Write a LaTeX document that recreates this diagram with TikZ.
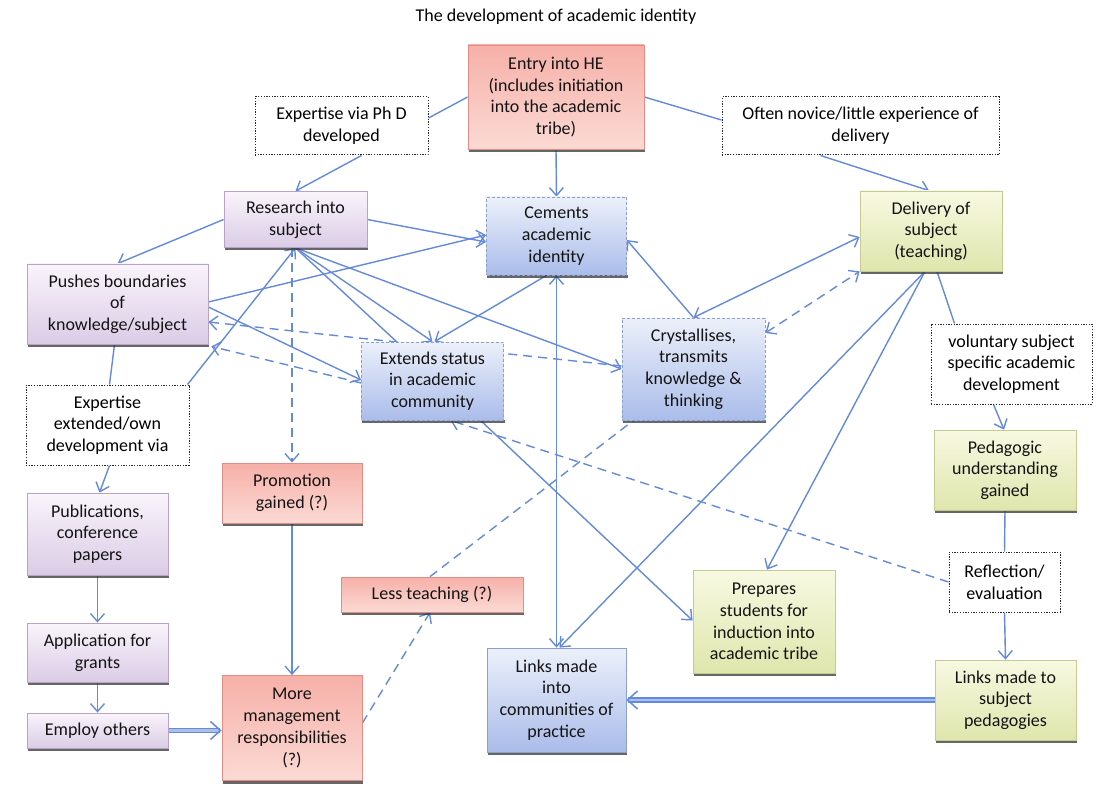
\documentclass[tikz,border=0pt]{standalone}
\usepackage{fontspec}
\setmainfont{Carlito}
\usetikzlibrary{arrows.meta,calc}

\definecolor{lineblue}{RGB}{100,138,218}
\definecolor{redtop}{RGB}{246,176,168}
\definecolor{redbot}{RGB}{251,218,212}
\definecolor{redbd}{RGB}{226,140,134}
\definecolor{purtop}{RGB}{250,244,251}
\definecolor{purbot}{RGB}{218,204,230}
\definecolor{purbd}{RGB}{184,162,200}
\definecolor{bluetop}{RGB}{236,240,250}
\definecolor{bluebot}{RGB}{170,188,234}
\definecolor{bluebd}{RGB}{140,160,204}
\definecolor{grntop}{RGB}{248,249,226}
\definecolor{grnbot}{RGB}{222,230,172}
\definecolor{grnbd}{RGB}{196,202,146}

\pgfdeclarelayer{bg}
\pgfdeclarelayer{shadow}
\pgfsetlayers{bg,shadow,main}

\tikzset{
  base/.style={draw, align=center, inner sep=2pt, text=black!92, line width=0.8pt},
  redbox/.style={base, draw=redbd, top color=redtop, bottom color=redbot},
  purbox/.style={base, draw=purbd, top color=purtop, bottom color=purbot},
  bluebox/.style={base, draw=bluebd, dash pattern=on 3pt off 2pt, top color=bluetop, bottom color=bluebot},
  blueboxsolid/.style={base, draw=bluebd, top color=bluetop, bottom color=bluebot},
  grnbox/.style={base, draw=grnbd, top color=grntop, bottom color=grnbot},
  dotbox/.style={draw=black!85, fill=white, align=center, inner sep=2pt, line width=1pt, dash pattern=on 1.3pt off 1.4pt},
  boxshadow/.style={fill=black!80, opacity=0.75},
  conn/.style={draw=lineblue, line width=1.4pt},
  tipv/.tip={Straight Barb[length=8pt,width=14pt]},
  arr/.style={conn, -tipv},
  darr/.style={conn, tipv-tipv},
  dline/.style={conn, dash pattern=on 9pt off 6pt},
  darrow/.style={dline, -tipv},
  ddarrow/.style={dline, tipv-tipv},
  thickarr/.style={draw=lineblue, line width=1.5pt, double=lineblue!55, double distance=2.4pt,
    -{Straight Barb[length=10pt,width=18pt]}},
}

\begin{document}
\begin{tikzpicture}[x=1pt, y=-1pt, font=\fontsize{18}{21.7}\selectfont]
\useasboundingbox (0,0) rectangle (1116,794);

% title
\node (title) at (556,17) {The development of academic identity};

% boxes
\node[redbox, minimum width=176pt, minimum height=104pt] (entry) at (556,97)
  {Entry into HE\\(includes initiation\\into the academic\\tribe)};
\node[dotbox, minimum width=173pt, minimum height=58pt] (phd) at (341.5,126)
  {Expertise via Ph D\\developed};
\node[dotbox, minimum width=277pt, minimum height=58pt] (novice) at (860.5,126)
  {Often novice/little experience of\\delivery};
\node[purbox, minimum width=143pt, minimum height=56pt] (research) at (295.5,219.5)
  {Research into\\subject};
\node[bluebox, minimum width=140pt, minimum height=78pt] (cements) at (556.5,236)
  {Cements\\academic\\identity};
\node[grnbox, minimum width=142pt, minimum height=80pt] (delivery) at (931,231)
  {Delivery of\\subject\\(teaching)};
\node[purbox, minimum width=181pt, minimum height=80pt] (pushes) at (117.5,304)
  {Pushes boundaries\\of\\knowledge/subject};
\node[bluebox, minimum width=142pt, minimum height=78pt] (extends) at (432.5,381)
  {Extends status\\in academic\\community};
\node[bluebox, minimum width=143pt, minimum height=102pt] (cryst) at (693.5,369)
  {Crystallises,\\transmits\\knowledge \&\\thinking};
\node[dotbox, minimum width=161pt, minimum height=80pt] (voluntary) at (1011.5,364)
  {voluntary subject\\specific academic\\development};
\node[dotbox, minimum width=163pt, minimum height=80pt] (expext) at (107.5,425)
  {Expertise\\extended/own\\development via};
\node[grnbox, minimum width=142pt, minimum height=80pt] (pedagogic) at (1005,470)
  {Pedagogic\\understanding\\gained};
\node[purbox, minimum width=141pt, minimum height=82pt] (pubs) at (97.5,534)
  {Publications,\\conference\\papers};
\node[redbox, minimum width=140pt, minimum height=60pt] (promotion) at (292,493)
  {Promotion\\gained (?)};
\node[redbox, minimum width=182pt, minimum height=35pt] (less) at (432,594.5)
  {Less teaching (?)};
\node[grnbox, minimum width=142pt, minimum height=103pt] (prepares) at (764,621.5)
  {Prepares\\students for\\induction into\\academic tribe};
\node[dotbox, minimum width=111pt, minimum height=60pt] (reflection) at (1004.5,582)
  {Reflection/\\evaluation};
\node[purbox, minimum width=141pt, minimum height=59pt] (application) at (97.5,652.5)
  {Application for\\grants};
\node[blueboxsolid, minimum width=139pt, minimum height=104pt] (linksinto) at (556.5,700)
  {Links made\\into\\communities of\\practice};
\node[grnbox, minimum width=141pt, minimum height=80pt] (linksto) at (1005.5,700)
  {Links made to\\subject\\pedagogies};
\node[purbox, minimum width=141pt, minimum height=35pt] (employ) at (97.5,730.5)
  {Employ others};
\node[redbox, minimum width=140pt, minimum height=105pt] (more) at (292,728)
  {More\\management\\responsibilities\\(?)};

% dark shadow band under each coloured box
\begin{pgfonlayer}{shadow}
\foreach \n in {entry,research,cements,delivery,pushes,extends,cryst,pedagogic,
                pubs,promotion,less,prepares,application,linksinto,linksto,employ,more}
  \fill[boxshadow] ([xshift=1pt,yshift=-2.6pt]\n.south west) rectangle ([xshift=1pt]\n.south east);
\end{pgfonlayer}

% connectors, kept behind the boxes
\begin{pgfonlayer}{bg}
\fill[white] (0,0) rectangle (1116,794);

\draw[conn] (entry.west) -- ([yshift=8pt]phd.east);
\draw[arr] ([xshift=20pt]phd.south) -- (research.north);
\draw[conn] (entry.east) -- ([yshift=6pt]novice.west);
\draw[arr] ([xshift=-40pt]novice.south) -- ([xshift=-2pt]delivery.north);
\draw[arr] (entry.south) -- (cements.north);

\draw[arr] (research.west) -- (pushes.north);
\draw[arr] (research.east) -- ([yshift=-6pt]cements.west);
\draw[arr] ([yshift=2pt]pushes.east) -- ([yshift=1pt]cements.west);
\draw[arr] (research.south) -- (extends.north);
\draw[conn] (research.south) -- ([xshift=-36pt]extends.north);
\draw[arr] ([xshift=-10pt]cements.south) -- ([xshift=2pt]extends.north);
\draw[arr] ([yshift=-3pt]pushes.east) -- ([yshift=1pt]extends.west);
\draw[darrow] ([yshift=3pt]cryst.west) -- ([yshift=-18pt]pushes.east);
\draw[darrow] ([yshift=-2pt]extends.west) -- ([xshift=3pt,yshift=-2pt]pushes.south east);
\draw[arr] (research.south) -- (cryst.west);
\draw[darrow] (research.south -| promotion.north) -- (promotion.north);
\draw[arr] ([xshift=-2pt]expext.north east) -- (research.south);

\draw[conn] ([xshift=-3pt]pushes.south) -- ([xshift=2pt]expext.north);
\draw[arr] ([xshift=2pt]expext.south) -- ([xshift=2pt]pubs.north);
\draw[arr] (pubs.south) -- (application.north);
\draw[arr] (application.south) -- (employ.north);
\draw[thickarr] (employ.east) -- (more.west |- employ.east);
\draw[arr] (promotion.south) -- (more.north);
\draw[darrow] ([yshift=5pt]more.east) -- ([xshift=-2pt]less.south);
\draw[dline] ([xshift=-2pt]less.north) -- ([xshift=-60pt]cryst.south);

\draw[arr] ([xshift=48pt]extends.south) -- ([yshift=1pt]prepares.west);
\draw[darrow] (reflection.west) -- ([xshift=18pt]extends.south);
\draw[arr] ([xshift=-6pt]delivery.south) -- ([xshift=3pt]linksinto.north);
\draw[arr] ([xshift=-6pt]delivery.south) -- ([xshift=3pt]prepares.north);
\draw[arr] (cryst.north) -- ([yshift=-4pt]cements.east);
\draw[darr] (cryst.north) -- ([yshift=-6pt]delivery.west);
\draw[ddarrow] ([yshift=36pt]cryst.east) -- (delivery.south west);
\draw[darr] (cements.south) -- (linksinto.north);

\draw[conn] ([xshift=6pt]delivery.south) -- ([xshift=-57pt]voluntary.north);
\draw[arr] ([xshift=-18pt]voluntary.south) -- ([xshift=-1pt]pedagogic.north);
\draw[conn] (pedagogic.south) -- (reflection.north);
\draw[arr] (reflection.south) -- (linksto.north);
\draw[thickarr] (linksto.west) -- (linksinto.east |- linksto.west);
\end{pgfonlayer}
\end{tikzpicture}
\end{document}
